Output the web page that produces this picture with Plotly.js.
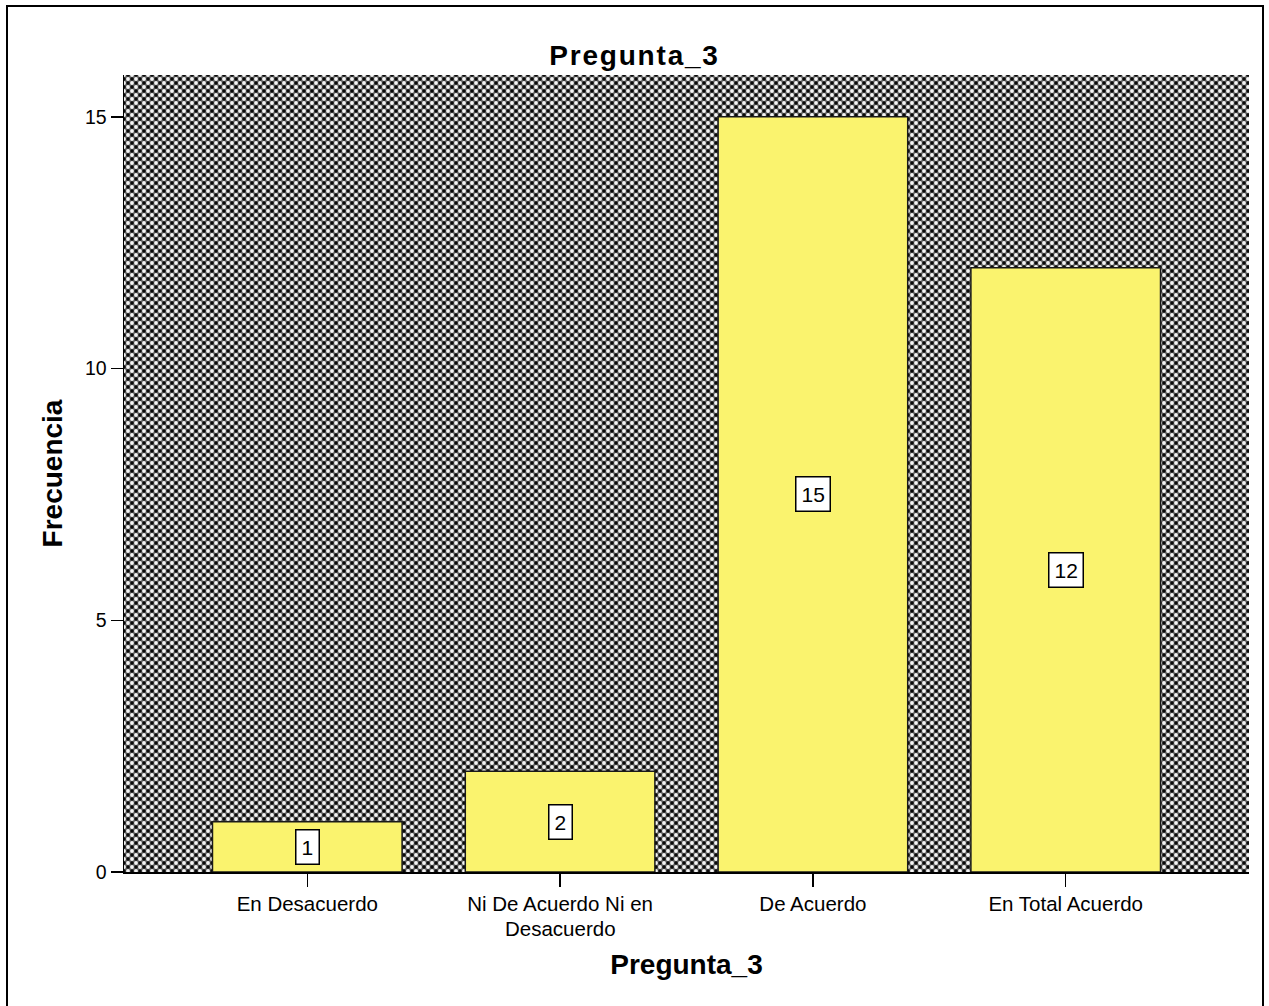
<!DOCTYPE html>
<html>
<head>
<meta charset="utf-8">
<script src="https://cdn.plot.ly/plotly-3.0.1.min.js"></script>
<style>
  html, body { margin: 0; padding: 0; background: #ffffff; overflow: hidden; }
  #chart { position: absolute; left: 0; top: 0; width: 1269px; height: 1006px; }
  #frame { position: absolute; left: 6px; top: 5px; width: 1254px; height: 1100px;
           border: 2px solid #000; pointer-events: none; }
  .gtitle { letter-spacing: 1.8px; }
</style>
</head>
<body>
<div id="chart"></div>
<div id="frame"></div>
<script>
// ---- data ----
const categories = ["En Desacuerdo", "Ni De Acuerdo Ni en<br>Desacuerdo", "De Acuerdo", "En Total Acuerdo"];
const frequencies = [1, 2, 15, 12];
const yTickValues = [0, 5, 10, 15];
const chartTitle = "Pregunta_3";
const xTitle = "Pregunta_3";
const yTitle = "Frecuencia";

// ---- crosshatch background pattern (SPSS style) ----
const tile = 8;
const svg =
  '<svg xmlns="http://www.w3.org/2000/svg" width="1125" height="797">' +
  '<defs><pattern id="p" width="' + tile + '" height="' + tile + '" patternUnits="userSpaceOnUse">' +
  '<rect width="8" height="8" fill="#5e5e5e"/>' +
  '<circle cx="4" cy="0" r="1.7" fill="#0a0a0a"/><circle cx="0" cy="4" r="1.7" fill="#0a0a0a"/>' +
  '<circle cx="8" cy="4" r="1.7" fill="#0a0a0a"/><circle cx="4" cy="8" r="1.7" fill="#0a0a0a"/>' +
  '<circle cx="0" cy="0" r="1.9" fill="#f4f4f4"/><circle cx="8" cy="0" r="1.9" fill="#f4f4f4"/>' +
  '<circle cx="0" cy="8" r="1.9" fill="#f4f4f4"/><circle cx="8" cy="8" r="1.9" fill="#f4f4f4"/>' +
  '<circle cx="4" cy="4" r="1.9" fill="#f4f4f4"/>' +
  '</pattern></defs><rect width="100%" height="100%" fill="url(#p)"/></svg>';
const bgSrc = "data:image/svg+xml;charset=utf-8," + encodeURIComponent(svg);

const xIdx = categories.map((_, i) => i);
const labelLines = categories.map(c => c.split("<br>"));
const tickFirstLines = labelLines.map(l => l[0]);
const tickFontSize = 20.5;

const trace = {
  type: "bar",
  x: xIdx,
  y: frequencies,
  width: 0.75,
  marker: { color: "#FAF36E", line: { color: "#1a1a1a", width: 1.5 } },
  hoverinfo: "skip"
};

const annotations = frequencies.map((v, i) => ({
  x: i, y: v / 2, xref: "x", yref: "y",
  text: String(v), showarrow: false,
  font: { family: "Liberation Sans, Arial, sans-serif", size: 21, color: "#000" },
  bgcolor: "#ffffff", bordercolor: "#000000", borderwidth: 1.5, borderpad: 5
}));

// continuation lines of wrapped category labels (tighter line spacing, as in the original)
labelLines.forEach((lines, i) => {
  lines.slice(1).forEach((txt, k) => {
    annotations.push({
      x: i, y: 0, xref: "x", yref: "paper",
      text: txt, showarrow: false,
      xanchor: "center", yanchor: "middle",
      yshift: -(56 + 22 * k),
      font: { family: "Liberation Sans, Arial, sans-serif", size: tickFontSize, color: "#000" }
    });
  });
});

const layout = {
  width: 1269, height: 1006,
  margin: { l: 124, r: 20, t: 75, b: 134, pad: 0 },
  paper_bgcolor: "#ffffff",
  plot_bgcolor: "#6a6a6a",
  showlegend: false,
  font: { family: "Liberation Sans, Arial, sans-serif", color: "#000" },
  title: {
    text: chartTitle,
    x: 0.5, xref: "container", xanchor: "center",
    y: 1 - 55 / 1006, yref: "container", yanchor: "middle",
    font: { family: "Liberation Sans, Arial, sans-serif", size: 28, weight: "bold", color: "#000" }
  },
  xaxis: {
    range: [-0.725, 3.725],
    tickmode: "array", tickvals: xIdx, ticktext: tickFirstLines,
    ticks: "outside", ticklen: 13, tickwidth: 1.5, tickcolor: "#000",
    tickfont: { size: tickFontSize, color: "#000" },
    showline: true, linecolor: "#000", linewidth: 1.5,
    showgrid: false, zeroline: false, fixedrange: true,
    title: { text: xTitle, standoff: 40,
             font: { size: 28, weight: "bold", color: "#000" } },
    automargin: false
  },
  yaxis: {
    range: [0, 15.83],
    tickmode: "array", tickvals: yTickValues, ticktext: yTickValues.map(String),
    ticks: "outside", ticklen: 12, tickwidth: 1.5, tickcolor: "#000",
    tickfont: { size: 19.5, color: "#000" },
    showline: true, linecolor: "#000", linewidth: 1.5,
    showgrid: false, zeroline: false, fixedrange: true,
    title: { text: yTitle, standoff: 14,
             font: { size: 28, weight: "bold", color: "#000" } },
    automargin: false
  },
  images: [{
    source: bgSrc, xref: "paper", yref: "paper",
    x: 0, y: 1, sizex: 1, sizey: 1, xanchor: "left", yanchor: "top",
    sizing: "stretch", layer: "below"
  }],
  annotations: annotations
};

Plotly.newPlot("chart", [trace], layout, { staticPlot: true, displayModeBar: false });
</script>
</body>
</html>
